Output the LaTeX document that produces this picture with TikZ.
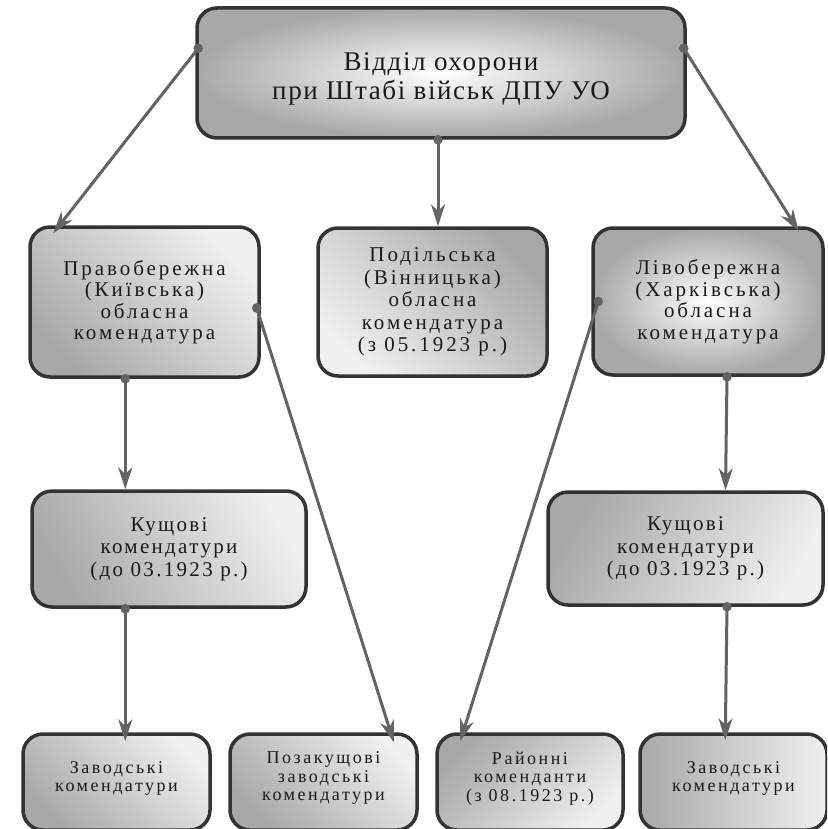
\documentclass[tikz,border=0pt]{standalone}
\usepackage{fontspec}
\setmainfont[LetterSpace=14]{Liberation Serif}
\usetikzlibrary{arrows.meta,calc,shadings}
\definecolor{edgec}{HTML}{333333}
\definecolor{arrowc}{HTML}{636363}
\definecolor{txtc}{HTML}{1A1A1A}
\definecolor{shadec}{HTML}{A8A8A8}
\tikzset{
  box/.style={draw=edgec, line width=3.5pt, rounded corners=20pt, align=center,
    text=txtc, inner sep=0pt},
  radbox/.style={box, inner color=white, outer color=shadec},
  linbox/.style={box, shading=axis, left color=shadec, right color=gray!12, shading angle=#1},
  conn/.style={draw=arrowc, line width=3pt,
    -{Stealth[length=22pt,width=14pt,inset=7pt]}},
  fbig/.style={font=\fontsize{27}{29}\selectfont\addfontfeatures{LetterSpace=6}},
  fmid/.style={font=\fontsize{21}{21.5}\selectfont},
  fpod/.style={font=\fontsize{21}{22.5}\selectfont},
  fkus/.style={font=\fontsize{21}{22.5}\selectfont\addfontfeatures{LetterSpace=11}},
  fsml/.style={font=\fontsize{18}{18.5}\selectfont},
}
\newcommand\conline[2]{\draw[conn] #1 -- #2; \fill[arrowc] #1 circle[radius=4.8pt];}
\newcommand\lowpad{\rule[-11pt]{0pt}{1pt}}
\begin{document}
\begin{tikzpicture}[x=1pt,y=-1pt]
\useasboundingbox (0,0) rectangle (827,829);
\begin{scope}
\clip (0,0) rectangle (827,829);
\node[radbox, fbig, minimum width=488, minimum height=130] (top) at (441,73)
  {\rule{0pt}{30pt}Відділ охорони\\при Штабі військ ДПУ УО};
\node[linbox=135, fmid, minimum width=229, minimum height=150] (pravo) at (144.5,302)
  {Правобережна\\(Київська)\\обласна\\комендатура};
\node[linbox=-45, fpod, minimum width=229, minimum height=148] (podil) at (432.5,302)
  {Подільська\\(Вінницька)\\обласна\\комендатура\\(з 05.1923 р.)};
\node[radbox, fmid, minimum width=230, minimum height=147] (livo) at (708,301.5)
  {Лівобережна\\(Харківська)\\обласна\\комендатура};
\node[linbox=120, fkus, minimum width=274, minimum height=116] (kushL) at (169,549)
  {Кущові\\комендатури\\(до 03.1923 р.)};
\node[linbox=60, fkus, minimum width=275, minimum height=113] (kushR) at (685.5,548.5)
  {Кущові\\комендатури\\(до 03.1923 р.)};
\node[linbox=135, fsml, minimum width=187, minimum height=96] (zavL) at (116.5,782)
  {Заводські\\комендатури\lowpad};
\node[linbox=135, fsml, minimum width=187, minimum height=96] (pozak) at (323.5,782)
  {Позакущові\\заводські\\комендатури\lowpad};
\node[linbox=45, fsml, minimum width=186, minimum height=96] (rayon) at (530,782)
  {Районні\\коменданти\\(з 08.1923 р.)\lowpad};
\node[linbox=90, fsml, minimum width=187, minimum height=96] (zavR) at (733.5,782)
  {Заводські\\комендатури\lowpad};
\end{scope}
\conline{($(top.north west)+(3,42)$)}{($(pravo.north west)+(25,8)$)}
\conline{($(top.north east)+(-3,42)$)}{($(livo.north east)+(-26,5)$)}
\conline{($(top.south)+(-3,0)$)}{($(podil.north)+(5.5,0)$)}
\conline{($(pravo.south west)+(97,0)$)}{($(kushL.north west)+(95,0)$)}
\conline{($(kushL.south west)+(95,0)$)}{($(zavL.north west)+(104,9)$)}
\conline{($(pravo.east)+(-4,6)$)}{($(pozak.north east)+(-25,10)$)}
\conline{($(livo.west)+(7,0)$)}{($(rayon.north west)+(25,9)$)}
\conline{($(livo.south)+(19,0)$)}{($(kushR.north)+(40,0)$)}
\conline{($(kushR.south)+(41.5,0)$)}{($(zavR.north west)+(87,8)$)}
\end{tikzpicture}
\end{document}
